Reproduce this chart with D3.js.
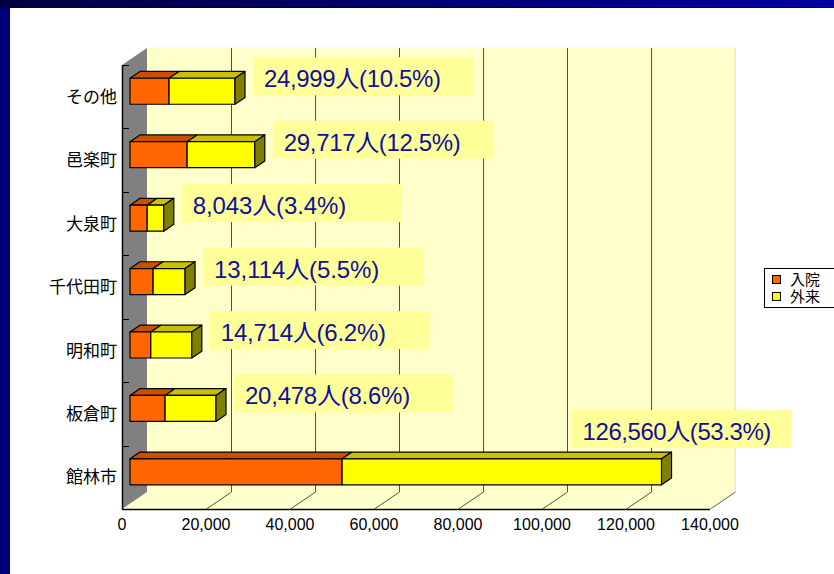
<!DOCTYPE html>
<html><head><meta charset="utf-8">
<script src="https://cdn.jsdelivr.net/npm/d3@7"></script>
<style>html,body{margin:0;padding:0;background:#fff;}svg{display:block;}</style>
</head><body><svg id="c" width="834" height="574"></svg>
<script>
const categories = ["その他","邑楽町","大泉町","千代田町","明和町","板倉町","館林市"];
const inpatient  = [9300, 13600, 4100, 5500, 4950, 8350, 50500];
const outpatient = [15699, 16117, 3943, 7614, 9764, 12128, 76060];
const totals     = [24999, 29717, 8043, 13114, 14714, 20478, 126560];
const percents   = ["10.5","12.5","3.4","5.5","6.2","8.6","53.3"];
const xTicks     = [0,20000,40000,60000,80000,100000,120000,140000];
const seriesNames = ["入院","外来"];
const seriesFill  = ["#FF6600","#FFFF00"];
const seriesTop   = ["#C85000","#C8C000"];
const seriesSide  = ["#A04000","#808000"];

const svg = d3.select("#c");
const defs = svg.append("defs");
const g1 = defs.append("linearGradient").attr("id","tb");
g1.append("stop").attr("offset","0").attr("stop-color","#000040");
g1.append("stop").attr("offset","1").attr("stop-color","#0000a0");
svg.append("rect").attr("x",0).attr("y",0).attr("width",834).attr("height",574).attr("fill","#00007a");
svg.append("rect").attr("x",0).attr("y",0).attr("width",834).attr("height",8).attr("fill","url(#tb)");
svg.append("rect").attr("x",10).attr("y",8).attr("width",824).attr("height",566).attr("fill","#fff");
svg.append("line").attr("x1",9.5).attr("x2",9.5).attr("y1",7).attr("y2",574).attr("stroke","#000020");
svg.append("line").attr("x1",9).attr("x2",834).attr("y1",7.5).attr("y2",7.5).attr("stroke","#000020");

const DX = 25, DY = -17;
const x = d3.scaleLinear().domain([0,140000]).range([122,710]);
const y = d3.scaleBand().domain(categories).range([65,509]);
const floorY = 509, topY = 65;

svg.append("rect").attr("x",x(0)+DX).attr("y",topY+DY).attr("width",x(140000)-x(0)).attr("height",floorY-topY)
  .attr("fill","#FFFFCC");
svg.append("polygon").attr("points",[[x(0),floorY],[x(140000),floorY],[x(140000)+DX,floorY+DY],[x(0)+DX,floorY+DY]].join(" "))
  .attr("fill","#FFFFCC");
svg.append("polyline").attr("points",[[x(140000),floorY],[x(140000)+DX,floorY+DY],[x(140000)+DX,topY+DY]].join(" "))
  .attr("fill","none").attr("stroke","#d8d8c8");
svg.append("line").attr("x1",x(0)+DX).attr("x2",x(140000)+DX).attr("y1",topY+DY).attr("y2",topY+DY).attr("stroke","#f4f4dc");
xTicks.slice(1).forEach(v=>{
  const xx = Math.round(x(v))+0.5;
  if (v===140000) {
    svg.append("line").attr("x1",xx).attr("x2",xx+DX).attr("y1",floorY).attr("y2",floorY+DY).attr("stroke","#707070");
  } else {
    svg.append("polyline").attr("points",[[xx,floorY],[xx+DX,floorY+DY],[xx+DX,topY+DY]].join(" "))
      .attr("fill","none").attr("stroke","#505050").attr("stroke-width",1);
  }
});
svg.append("polygon").attr("points",[[x(0),topY],[x(0)+DX,topY+DY],[x(0)+DX,floorY+DY],[x(0),floorY]].join(" "))
  .attr("fill","#808080");
svg.append("line").attr("x1",x(0)+0.5).attr("x2",x(0)+0.5).attr("y1",topY).attr("y2",floorY).attr("stroke","#000").attr("stroke-width",1.5);
svg.append("line").attr("x1",x(0)).attr("x2",x(140000)).attr("y1",floorY+0.5).attr("y2",floorY+0.5).attr("stroke","#000").attr("stroke-width",1.5);
categories.forEach(c=>{
  const yy = Math.round(y(c))+0.5;
  svg.append("line").attr("x1",x(0)).attr("x2",x(0)+7).attr("y1",yy).attr("y2",yy).attr("stroke","#000");
});
svg.append("g").selectAll("text").data(categories).join("text")
  .attr("x",117).attr("y",d=>y(d)+y.bandwidth()/2).attr("dy","0.36em")
  .attr("text-anchor","end").attr("font-family","'Noto Sans CJK JP',sans-serif").attr("font-size",17).attr("fill","#000")
  .text(d=>d);
svg.append("g").selectAll("text").data(xTicks).join("text")
  .attr("x",d=>x(d)).attr("y",530).attr("text-anchor","middle")
  .attr("font-family","'Liberation Sans',Arial,sans-serif").attr("font-size",16).attr("fill","#000")
  .text(d=>d3.format(",")(d));

const d0 = 0.32, bd = 0.40, barH = 26;
const bdx = bd*DX, bdy = bd*DY;
categories.forEach((c,i)=>{
  const cy = y(c)+y.bandwidth()/2 + d0*DY;
  const yt = cy - barH/2, yb = cy + barH/2;
  const segs = [[0, inpatient[i]],[inpatient[i], inpatient[i]+outpatient[i]]];
  const g = svg.append("g").attr("stroke","#000").attr("stroke-width",1.2).attr("stroke-linejoin","round");
  segs.forEach((s,k)=>{
    const xa = x(s[0])+d0*DX, xb = x(s[1])+d0*DX;
    g.append("polygon").attr("points",[[xa,yt],[xb,yt],[xb+bdx,yt+bdy],[xa+bdx,yt+bdy]].join(" ")).attr("fill",seriesTop[k]);
    g.append("rect").attr("x",xa).attr("y",yt).attr("width",xb-xa).attr("height",barH).attr("fill",seriesFill[k]);
    if (k===segs.length-1)
      g.append("polygon").attr("points",[[xb,yt],[xb+bdx,yt+bdy],[xb+bdx,yb+bdy],[xb,yb]].join(" ")).attr("fill",seriesSide[k]);
  });
});

const boxW = 220, boxH = 38, em = 23.6;
categories.forEach((c,i)=>{
  const cy = y(c)+y.bandwidth()/2 + d0*DY;
  const endX = x(totals[i])+d0*DX+bdx;
  let bx = endX + 8, by = cy - 15 - boxH/2;
  if (bx + boxW > x(140000)+DX) {
    bx = endX + 10 - boxW/2;
    by = cy - barH/2 + bdy - 4 - boxH;
  }
  const label = d3.format(",")(totals[i]) + "人(" + percents[i] + "%)";
  svg.append("rect").attr("x",bx).attr("y",by).attr("width",boxW).attr("height",boxH).attr("fill","#FFFF99");
  const t = svg.append("text").attr("x",bx+11).attr("y",by+30)
    .attr("font-family","'Liberation Sans','Noto Sans CJK JP',sans-serif").attr("font-size",24)
    .attr("fill","#10109a").text(label);
  const target = ((label.length-1)*0.5+1)*em;
  const natural = t.node().getBBox().width;
  const ls = (target - natural)/(label.length-1);
  t.attr("letter-spacing", ls.toFixed(2)+"px");
});

const lg = svg.append("g");
lg.append("rect").attr("x",764.5).attr("y",268.5).attr("width",80).attr("height",39).attr("fill","#fff").attr("stroke","#000");
seriesNames.forEach((n,k)=>{
  lg.append("rect").attr("x",772.5).attr("y",275.5+k*17).attr("width",8).attr("height",8)
    .attr("fill",seriesFill[k]).attr("stroke","#000");
  lg.append("text").attr("x",790).attr("y",285+k*17).attr("font-family","'Noto Sans CJK JP',sans-serif")
    .attr("font-size",15).attr("fill","#000").text(n);
});
</script></body></html>
